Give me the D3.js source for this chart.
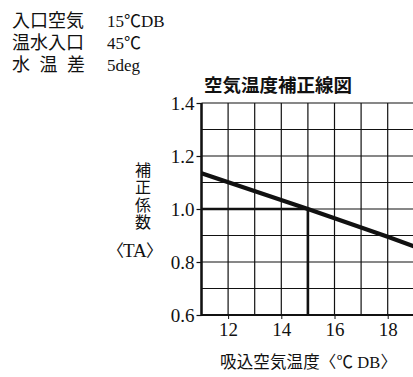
<!DOCTYPE html>
<html>
<head>
<meta charset="utf-8">
<script src="https://cdn.jsdelivr.net/npm/d3@7"></script>
<style>
  html, body { margin: 0; padding: 0; background: #fff; }
  svg { display: block; }
  text { font-family: "Liberation Serif", "Noto Sans CJK JP", serif; fill: #111; }
</style>
</head>
<body>
<div id="chart"></div>
<script>
// conditions block (top left)
var condLabels = ["入口空気", "温水入口", "水温差"];
var condValues = ["15℃DB", "45℃", "5deg"];

// axes
var xTicks = [12, 14, 16, 18];
var yTicks = [0.6, 0.8, 1.0, 1.2, 1.4];
var xGrid = [11, 12, 13, 14, 15, 16, 17, 18, 19, 20];
var yGrid = [0.6, 0.7, 0.8, 0.9, 1.0, 1.1, 1.2, 1.3, 1.4];

// correction curve: air temp (C DB) -> TA
var airTemp = [11, 15, 18, 19.5];
var taValue = [1.135, 1.0, 0.895, 0.84];

// worked example: 15C -> 1.0
var exTemp = 15, exTA = 1.0;

var W = 413, H = 377;
var svg = d3.select("#chart").append("svg").attr("width", W).attr("height", H);

var x = d3.scaleLinear().domain([11, 20]).range([201.5, 201.5 + 26.6 * 9]);
var y = d3.scaleLinear().domain([0.6, 1.4]).range([315, 103]);

// condition text
var cond = svg.append("g").attr("font-size", 18);
condLabels.forEach(function (d, i) {
  var t = cond.append("text").attr("x", 12).attr("y", 27 + i * 22).text(d);
  if (d.length === 3) t.attr("textLength", 73).attr("lengthAdjust", "spacing");
  cond.append("text").attr("x", 107).attr("y", 27 + i * 22).attr("font-size", 17).text(condValues[i]);
});

// title
svg.append("text").attr("x", 278).attr("y", 92).attr("text-anchor", "middle")
  .attr("font-size", 18.5).attr("font-weight", "bold")
  .style("font-family", "'Noto Sans CJK JP', sans-serif")
  .text("空気温度補正線図");

// grid
var grid = svg.append("g").attr("stroke", "#111").attr("stroke-width", 1.2);
grid.selectAll(".vx").data(xGrid).enter().append("line")
  .attr("x1", function (d) { return x(d); }).attr("x2", function (d) { return x(d); })
  .attr("y1", y(1.4)).attr("y2", y(0.6));
grid.selectAll(".hy").data(yGrid).enter().append("line")
  .attr("x1", x(11)).attr("x2", W)
  .attr("y1", function (d) { return y(d); }).attr("y2", function (d) { return y(d); });

// axes
var xAxis = d3.axisBottom(x).tickValues(xTicks).tickSize(4).tickPadding(4)
  .tickFormat(d3.format("d"));
var gx = svg.append("g").attr("transform", "translate(0," + y(0.6) + ")").call(xAxis);
gx.select(".domain").remove();
gx.append("line").attr("x1", x(11)).attr("x2", W).attr("stroke", "#111").attr("stroke-width", 2);
gx.selectAll("text").attr("font-size", 19).style("font-family", "'Liberation Serif', serif").attr("fill", "#111");
gx.selectAll(".tick line").attr("stroke", "#111");

var yAxis = d3.axisLeft(y).tickValues(yTicks).tickSize(5).tickPadding(2)
  .tickFormat(d3.format(".1f"));
var gy = svg.append("g").attr("transform", "translate(" + x(11) + ",0)").call(yAxis);
gy.select(".domain").remove();
gy.append("line").attr("y1", y(1.4)).attr("y2", y(0.6) + 1).attr("stroke", "#111").attr("stroke-width", 2.5);
gy.selectAll("text").attr("font-size", 19).style("font-family", "'Liberation Serif', serif").attr("fill", "#111");
gy.selectAll(".tick line").attr("stroke", "#111").attr("stroke-width", 1.2);

// example guide lines
svg.append("path")
  .attr("d", "M" + x(11) + "," + y(exTA) + "H" + x(exTemp) + "V" + y(0.6))
  .attr("fill", "none").attr("stroke", "#111").attr("stroke-width", 2.6);

// curve
var line = d3.line().x(function (d) { return x(d[0]); }).y(function (d) { return y(d[1]); });
svg.append("path").datum(d3.zip(airTemp, taValue)).attr("d", line)
  .attr("fill", "none").attr("stroke", "#111").attr("stroke-width", 4.2);

// y label (vertical)
svg.append("text").attr("x", 143).attr("y", 162).attr("font-size", 16)
  .attr("writing-mode", "vertical-rl").style("letter-spacing", "1.3px")
  .style("font-family", "'Noto Sans CJK JP', serif")
  .text("補正係数");
var ta = svg.append("text").attr("y", 257).attr("font-size", 17);
ta.append("tspan").attr("x", 107).style("font-family", "'Noto Sans CJK JP'").text("〈");
ta.append("tspan").attr("x", 123).attr("font-size", 19).style("font-family", "'Liberation Serif'").text("TA");
ta.append("tspan").attr("x", 146).style("font-family", "'Noto Sans CJK JP'").text("〉");

// x label
svg.append("text").attr("x", 220).attr("y", 368).attr("font-size", 16.5)
  .attr("textLength", 177).attr("lengthAdjust", "spacing")
  .text("吸込空気温度〈℃ DB〉");
</script>
</body>
</html>
